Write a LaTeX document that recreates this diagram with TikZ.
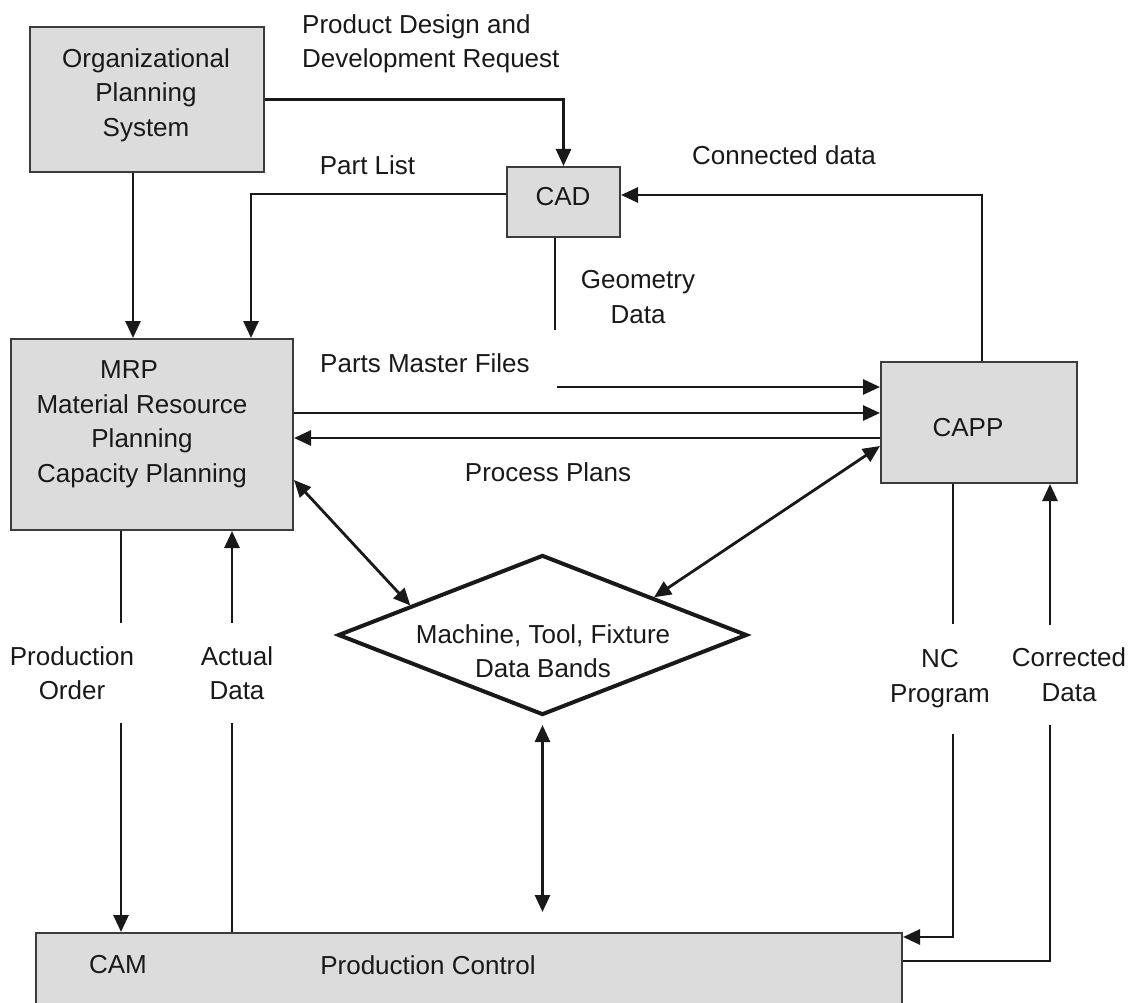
\documentclass[tikz,border=0pt]{standalone}
\usepackage{fontspec}
\setmainfont{Liberation Sans}
\usetikzlibrary{arrows.meta,shapes.geometric,calc}
\definecolor{boxgray}{RGB}{220,220,220}
\definecolor{ink}{RGB}{25,25,25}

\tikzset{
  box/.style={draw=ink!85, fill=boxgray, line width=2pt, inner sep=0pt},
  txt/.style={align=center, inner sep=0pt, text=ink},
  conn/.style={draw=ink, line width=2.8pt},
  thinconn/.style={draw=ink, line width=2pt},
  gap/.style={fill=white, align=center, text=ink, minimum height=100pt, inner sep=2pt},
  >={Triangle[length=17pt,width=15pt]}
}

\begin{document}
\begin{tikzpicture}[x=1pt, y=-1pt, font=\fontsize{26}{34.5}\selectfont]
\useasboundingbox (0,0) rectangle (1132,1003);

% boxes
\node[box, minimum width=234pt, minimum height=145pt] (org) at (147,99.5) {};
\node[box, minimum width=113pt, minimum height=70pt] (cad) at (563.5,202) {};
\node[box, minimum width=282pt, minimum height=191pt] (mrp) at (152,434.5) {};
\node[box, minimum width=196pt, minimum height=121pt] (capp) at (979,422.5) {};
\node[box, minimum width=866pt, minimum height=120pt] (prod) at (469,993) {};
\node[draw=ink, line width=4pt, shape=diamond, minimum width=409pt, minimum height=160pt, inner sep=0pt] (dia) at (542.5,635) {};

% box texts
\node[txt] (orgtxt) at (146,95) {Organizational\\Planning\\System};
\node[txt] (cadtxt) at (563,197) {CAD};
\node[txt] (mrptxt) at (142,424) {MRP\hspace*{26pt}\\Material Resource\\Planning\hspace*{40pt}\\Capacity Planning};
\node[txt] (capptxt) at (968,428) {CAPP};
\node[txt] (diatxt) at (543,651) {Machine, Tool, Fixture\\Data Bands};
\node[txt] (camtxt) at (118,965) {CAM};
\node[txt] (pctxt) at (428,965) {Production Control};

% flow labels
\node[txt, anchor=west, align=left] (pddr) at (302,44) {Product Design and\\Development Request};
\node[txt] (partlist) at (367.5,165) {Part List};
\node[txt] (condata) at (784,155) {Connected data};
\node[txt] (geodata) at (638,297) {Geometry\\Data};
\node[txt, anchor=west] (pmf) at (320,363) {Parts Master Files};
\node[txt] (procplan) at (548,472) {Process Plans};

\coordinate (geoend) at (555,330);
\coordinate (pmstart) at (557,387);

% connectors
\draw[conn,->] (org.south -| 133,0) -- (mrp.north -| 133,0);
\draw[conn,->] (org.east) -| (cad.north);
\draw[conn,->] (cad.west |- 0,194) -| (mrp.north -| 251,0);
\draw[thinconn] (cad.south -| geoend) -- (geoend);
\draw[conn,->] (capp.north -| 982,0) |- (cad.east |- 0,195);
\draw[conn,->] (pmstart) -- (pmstart -| capp.west);
\draw[conn,->] (mrp.east |- 0,413) -- (capp.west |- 0,413);
\draw[conn,->] (capp.west |- 0,438) -- (mrp.east |- 0,438);
\draw[conn,<->] (mrp.east |- 0,480) -- ($(dia.west)!0.36!(dia.north)$);
\draw[conn,<->] ($(dia.north)!0.54!(dia.east)$) -- (capp.west |- 0,446);
\draw[conn,<->] ($(dia.south)+(0,8)$) -- (dia.south |- 0,912);

\draw[conn,->] (mrp.south -| 121,0) -- node[gap, pos=0.355, xshift=-49pt] {Production\\Order} (prod.north -| 121,0);
\draw[conn,->] (prod.north -| 232,0) -- node[gap, pos=0.645, xshift=5pt] {Actual\\Data} (mrp.south -| 232,0);
\draw[conn,->] (capp.south -| 953,0) |- node[gap, pos=0.215, xshift=-13pt, minimum height=110pt] {NC\\Program} (prod.east |- 0,937);
\draw[conn,->] (prod.east |- 0,961) -| node[gap, pos=0.80, xshift=19pt] {Corrected\\Data} (capp.south -| 1050,0);

\end{tikzpicture}
\end{document}
